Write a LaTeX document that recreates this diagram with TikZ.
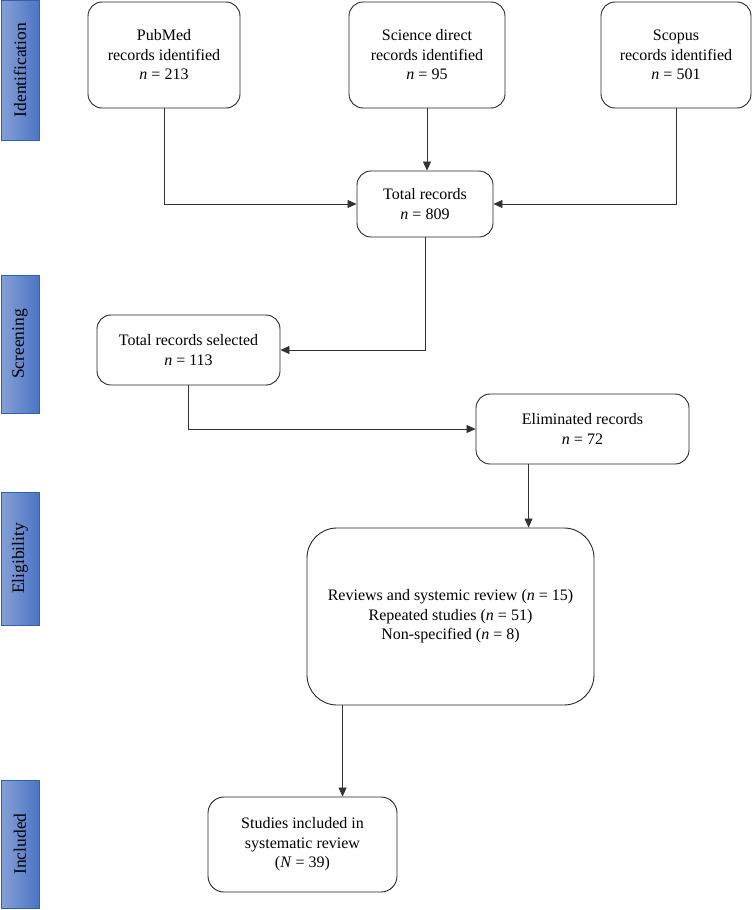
\documentclass[tikz,border=0pt]{standalone}
\usepackage{fontspec}
\setmainfont{Liberation Serif}
\usetikzlibrary{arrows.meta}
\definecolor{barlight}{RGB}{133,160,214}
\definecolor{bardark}{RGB}{76,117,197}
\definecolor{barline}{RGB}{52,96,180}
\newcommand{\nn}{\textit{n}}

\tikzset{
	recbox/.style={draw=black!85, line width=0.9pt, rounded corners=14pt, align=center,
		inner sep=0pt, font=\fontsize{16}{19.5}\selectfont},
	phasebar/.style={draw=barline, line width=0.9pt, left color=barlight, right color=bardark,
		minimum width=38pt, inner sep=0pt, font=\fontsize{17.5}{20}\selectfont},
	link/.style={draw=black!80, line width=0.8pt, ->, >={Triangle[length=9pt,width=8pt]}},
}

\begin{document}
\begin{tikzpicture}[x=1pt, y=-1pt]% {{{ flow of records
	\useasboundingbox (0,0) rectangle (753,910);

	% phases on the left
	\node[phasebar, minimum height=140pt] (ident) at (20,70) {\rotatebox{90}{Identification}};
	\node[phasebar, minimum height=138pt] (screen) at (20,344) {\rotatebox{90}{Screening}};
	\node[phasebar, minimum height=133pt] (elig) at (20,558.5) {\rotatebox{90}{Eligibility}};
	\node[phasebar, minimum height=128pt] (incl) at (20,844) {\rotatebox{90}{Included}};

	% sources
	\node[recbox, minimum width=152pt, minimum height=106pt] (pubmed) at (164,55)
		{PubMed\\records identified\\\nn{} = 213};
	\node[recbox, minimum width=156pt, minimum height=106pt] (scidir) at (427,55)
		{Science direct\\records identified\\\nn{} = 95};
	\node[recbox, minimum width=150pt, minimum height=106pt] (scopus) at (676,55)
		{Scopus\\records identified\\\nn{} = 501};

	\node[recbox, minimum width=136pt, minimum height=66pt] (total) at (425,204)
		{Total records\\\nn{} = 809};
	\node[recbox, minimum width=183pt, minimum height=70pt] (selected) at (188.5,350)
		{Total records selected\\\nn{} = 113};
	\node[recbox, minimum width=213pt, minimum height=70pt] (elim) at (582.5,429)
		{Eliminated records\\\nn{} = 72};
	\node[recbox, rounded corners=30pt, minimum width=287pt, minimum height=177pt] (reasons) at (450.5,616.5)
		{Reviews and systemic review (\nn{} = 15)\\Repeated studies (\nn{} = 51)\\Non-specified (\nn{} = 8)};
	\node[recbox, rounded corners=16pt, minimum width=189pt, minimum height=95pt] (final) at (302.5,844.5)
		{Studies included in\\systematic review\\(\textit{N} = 39)};

	% connectors
	\draw[link] (pubmed.south) |- (total.west);
	\draw[link] (scidir.south) -- (scidir.south |- total.north);
	\draw[link] (scopus.south) |- (total.east);
	\draw[link] (total.south) |- (selected.east);
	\draw[link] (selected.south) |- (elim.west);
	\coordinate (elimout) at ([xshift=53pt]elim.south west);
	\draw[link] (elimout) -- (elimout |- reasons.north);
	\coordinate (reasonsout) at ([xshift=36pt]reasons.south west);
	\draw[link] (reasonsout) -- (reasonsout |- final.north);
\end{tikzpicture}% }}}
\end{document}
